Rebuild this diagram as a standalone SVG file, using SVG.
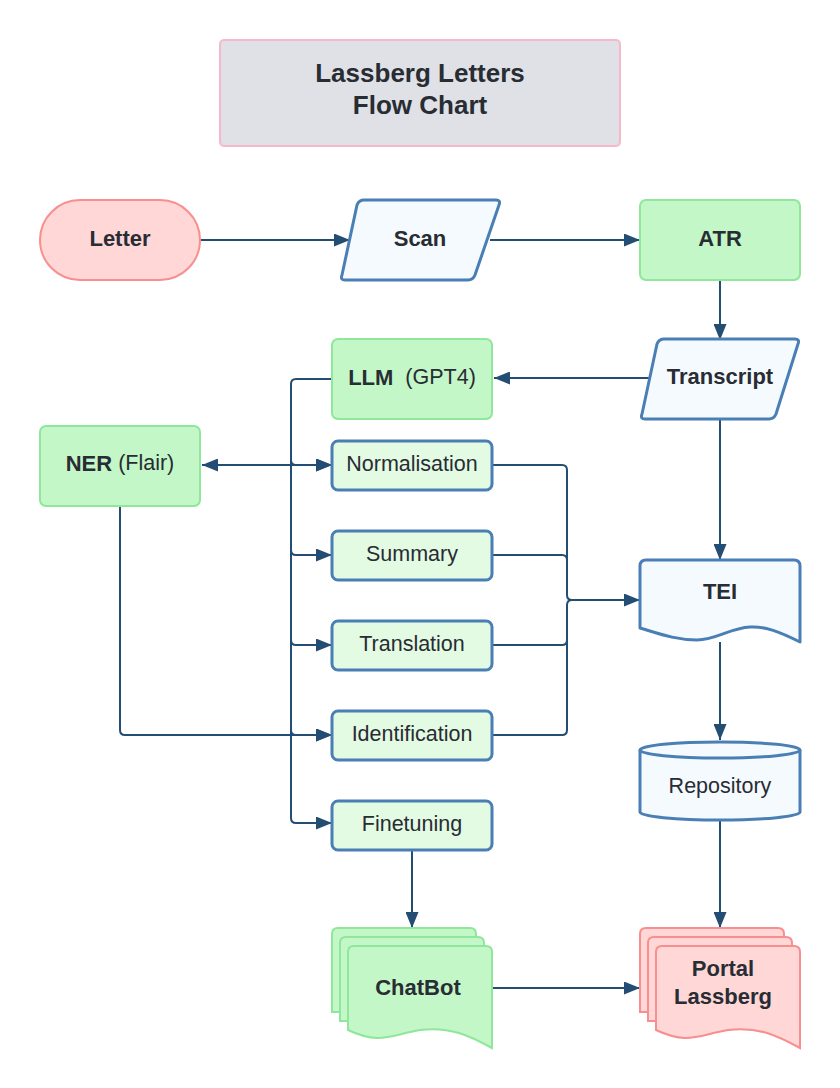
<svg xmlns="http://www.w3.org/2000/svg" width="840" height="1088" viewBox="0 0 840 1088">
<defs>
<style>
text{font-family:"Liberation Sans",Arial,sans-serif;fill:#282c33;text-anchor:middle;dominant-baseline:central}
.b{font-weight:bold;font-size:22px}
.r{font-size:21.5px}
.t{font-weight:bold;font-size:26px}
.red{fill:#ffd7d7;stroke:#f88e8e;stroke-width:2}
.green{fill:#c3f7c8;stroke:#8ee79a;stroke-width:2}
.blue{fill:#f5faff;stroke:#4a7fb5;stroke-width:3;stroke-linejoin:round}
.lgreen{fill:#e3fae3;stroke:#4a7fb5;stroke-width:3}
.c{fill:none;stroke:#234d72;stroke-width:2;stroke-linejoin:round}
</style>
<marker id="ah" viewBox="0 0 16 13" refX="16" refY="6.5" markerWidth="16" markerHeight="13" markerUnits="userSpaceOnUse" orient="auto-start-reverse">
<path d="M0,0 L16,6.5 L0,13 z" fill="#234d72"/>
</marker>
</defs>
<rect width="840" height="1088" fill="#ffffff"/>

<g id="connectors">
<path class="c" d="M200,240 H350" marker-end="url(#ah)"/>
<path class="c" d="M490,240 H640" marker-end="url(#ah)"/>
<path class="c" d="M720,280 V340" marker-end="url(#ah)"/>
<path class="c" d="M650,378 H494" marker-end="url(#ah)"/>
<path class="c" d="M720,419 V560" marker-end="url(#ah)"/>
<path class="c" d="M720,642 V740" marker-end="url(#ah)"/>
<path class="c" d="M720,820 V928" marker-end="url(#ah)"/>
<path class="c" d="M412,850 V928" marker-end="url(#ah)"/>
<path class="c" d="M492,988 H640" marker-end="url(#ah)"/>
<path class="c" d="M332,379 H296 Q291,379 291,384 V818 Q291,823 296,823 H332" marker-end="url(#ah)"/>
<path class="c" d="M291,460 Q291,465 296,465 H332" marker-end="url(#ah)"/>
<path class="c" d="M291,550 Q291,555 296,555 H332" marker-end="url(#ah)"/>
<path class="c" d="M291,640 Q291,645 296,645 H332" marker-end="url(#ah)"/>
<path class="c" d="M291,730 Q291,735 296,735 H332" marker-end="url(#ah)"/>
<path class="c" d="M202,465 H332" marker-start="url(#ah)" marker-end="url(#ah)"/>
<path class="c" d="M120,505 V730 Q120,735 125,735 H332" marker-end="url(#ah)"/>
<path class="c" d="M492,465 H562 Q567,465 567,470 V595 Q567,600 572,600 H640" marker-end="url(#ah)"/>
<path class="c" d="M492,555 H562 Q567,555 567,560 V595"/>
<path class="c" d="M492,645 H562 Q567,645 567,640 V605 Q567,600 572,600"/>
<path class="c" d="M492,735 H562 Q567,735 567,730 V640"/>
</g>

<g id="title">
<rect x="220" y="40" width="400" height="106" rx="4" fill="#dfe1e6" stroke="#f8b8cc" stroke-width="2"/>
<text class="t" x="420" y="73">Lassberg Letters</text>
<text class="t" x="420" y="105">Flow Chart</text>
</g>

<g id="letter">
<rect class="red" x="40" y="200" width="160" height="80" rx="40"/>
<text class="b" x="120" y="238">Letter</text>
</g>

<g id="scan">
<path class="blue" d="M364,200 H496 Q501,200 499,205 L475,275 Q473,280 468,280 H345 Q340,280 342,275 L357,205 Q359,200 364,200 Z"/>
<text class="b" x="420" y="238">Scan</text>
</g>

<g id="atr">
<rect class="green" x="640" y="200" width="160" height="80" rx="6"/>
<text class="b" x="720" y="238">ATR</text>
</g>

<g id="transcript">
<path class="blue" d="M664,339 H795 Q800,339 798,344 L776,414 Q774,419 769,419 H645 Q640,419 642,414 L657,344 Q659,339 664,339 Z"/>
<text class="b" x="720" y="376">Transcript</text>
</g>

<g id="llm">
<rect class="green" x="332" y="339" width="160" height="80" rx="6"/>
<text x="412" y="377" class="r"><tspan font-weight="bold" font-size="22">LLM</tspan>  <tspan dx="6">(GPT4)</tspan></text>
</g>

<g id="ner">
<rect class="green" x="40" y="426" width="160" height="80" rx="6"/>
<text x="120" y="463" class="r"><tspan font-weight="bold" font-size="22">NER</tspan> (Flair)</text>
</g>

<g id="normalisation">
<rect class="lgreen" x="332" y="441" width="160" height="49" rx="6"/>
<text class="r" x="412" y="464">Normalisation</text>
</g>
<g id="summary">
<rect class="lgreen" x="332" y="531" width="160" height="49" rx="6"/>
<text class="r" x="412" y="554">Summary</text>
</g>
<g id="translation">
<rect class="lgreen" x="332" y="621" width="160" height="49" rx="6"/>
<text class="r" x="412" y="644">Translation</text>
</g>
<g id="identification">
<rect class="lgreen" x="332" y="711" width="160" height="49" rx="6"/>
<text class="r" x="412" y="734">Identification</text>
</g>
<g id="finetuning">
<rect class="lgreen" x="332" y="801" width="160" height="49" rx="6"/>
<text class="r" x="412" y="824">Finetuning</text>
</g>

<g id="tei">
<path class="blue" d="M646,560 H794 Q800,560 800,566 V642 C780,632 765,626 750,627 C730,628 716,640 697,640 C676,640 660,634 640,628 V566 Q640,560 646,560 Z"/>
<text class="b" x="720" y="591">TEI</text>
</g>

<g id="repository">
<path class="blue" d="M640,750 V812 A80,8 0 0 0 800,812 V750"/>
<ellipse class="blue" cx="720" cy="750" rx="80" ry="8"/>
<text class="r" x="720" y="786">Repository</text>
</g>

<g id="chatbot">
<path class="green" d="M338,928 H470 Q476,928 476,934 V1012 L332,1012 V934 Q332,928 338,928 Z"/>
<path class="green" d="M346,937 H478 Q484,937 484,943 V1021 L340,1021 V943 Q340,937 346,937 Z"/>
<path class="green" d="M354,946 H486 Q492,946 492,952 V1048 C470,1036 450,1026 420,1030 C390,1035 380,1045 348,1030 V952 Q348,946 354,946 Z"/>
<text class="b" x="418" y="987">ChatBot</text>
</g>

<g id="portal">
<path class="red" d="M646,928 H778 Q784,928 784,934 V1012 L640,1012 V934 Q640,928 646,928 Z"/>
<path class="red" d="M654,937 H786 Q792,937 792,943 V1021 L648,1021 V943 Q648,937 654,937 Z"/>
<path class="red" d="M662,946 H794 Q800,946 800,952 V1048 C778,1036 758,1026 728,1030 C698,1035 688,1045 656,1030 V952 Q656,946 662,946 Z"/>
<text class="b" x="723" y="968">Portal</text>
<text class="b" x="723" y="996">Lassberg</text>
</g>
</svg>
